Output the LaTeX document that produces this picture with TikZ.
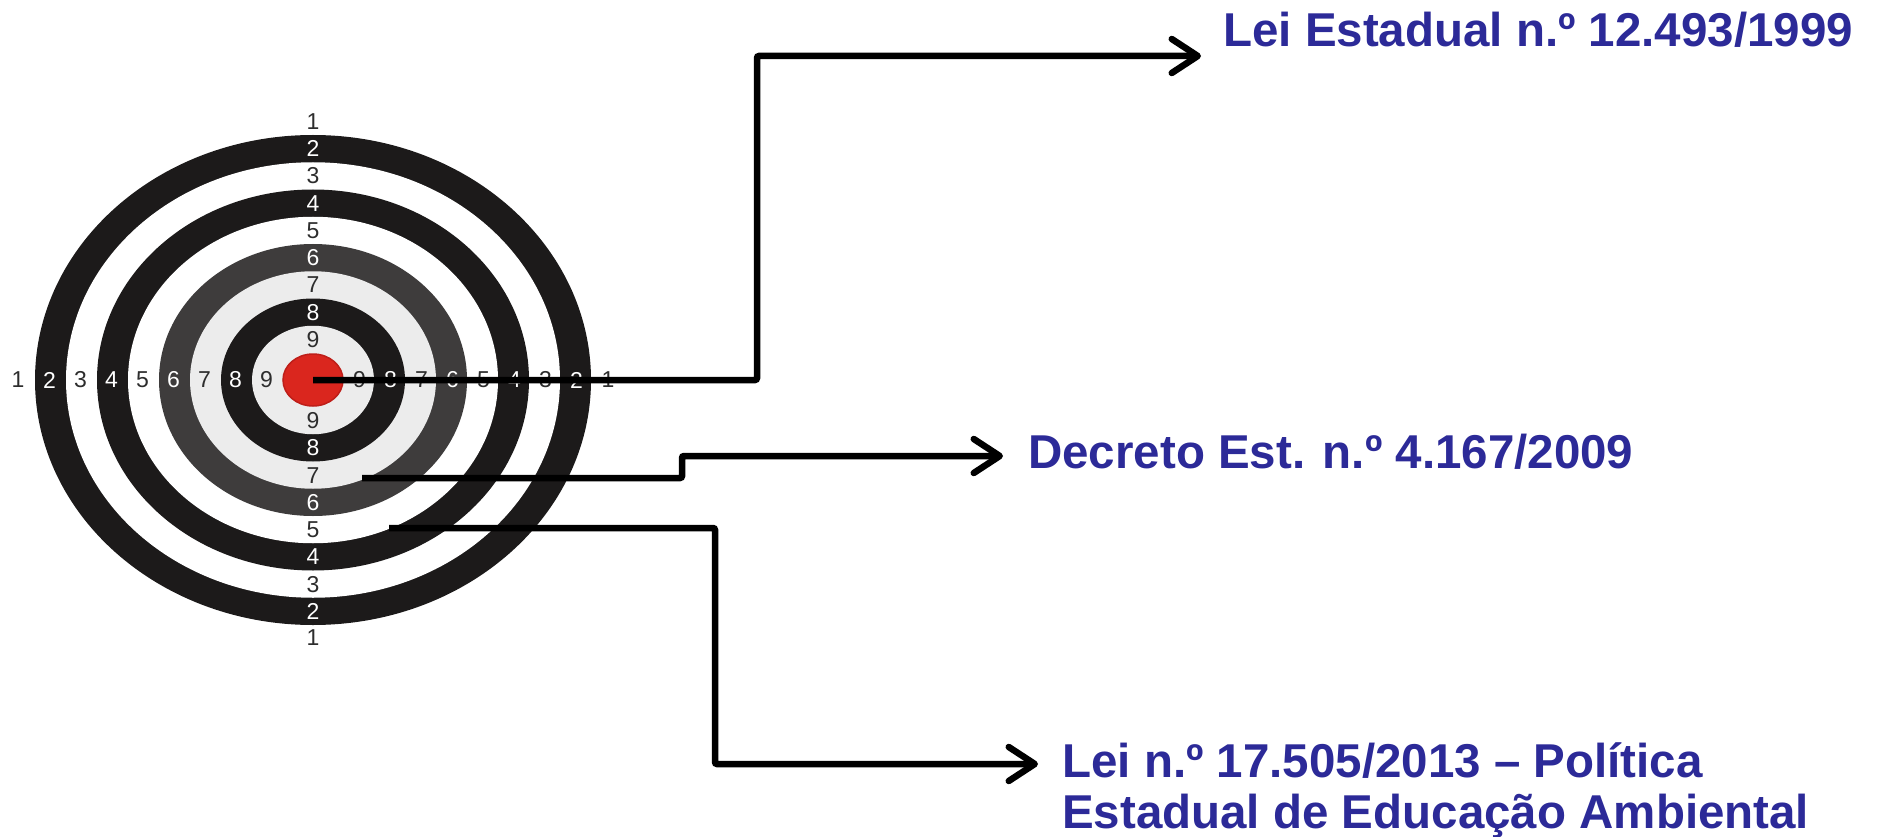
\documentclass[tikz,border=0pt]{standalone}
\usepackage{fontspec}
\setmainfont{Liberation Sans}
\usetikzlibrary{arrows.meta}
\definecolor{lawblue}{RGB}{44,42,152}
\definecolor{ringblack}{RGB}{28,26,26}
\definecolor{ringdark}{RGB}{62,60,60}
\definecolor{ringlight}{RGB}{236,236,236}
\definecolor{bullred}{RGB}{218,38,30}
\definecolor{bulledge}{RGB}{190,30,25}
\definecolor{numdark}{RGB}{45,45,45}

\begin{document}
\begin{tikzpicture}[x=1pt,y=-1pt,
    lawtext/.style={font=\fontsize{47.5}{51}\selectfont\bfseries,text=lawblue,inner sep=0pt,anchor=base west,align=left},
    ringnum/.style={font=\fontsize{23}{23}\selectfont,inner sep=0pt},
    pointer/.style={line width=6.5pt,rounded corners=2pt,-{Straight Barb[length=26pt,width=34pt,round]}}]
  \useasboundingbox (0,0) rectangle (1877,837);

  % target rings
  \coordinate (bull) at (313,380);
  \foreach \k/\col in {0/ringblack,1/white,2/ringblack,3/white,4/ringdark,5/ringlight,6/ringblack,7/ringlight}
    \fill[\col] (bull) ellipse ({278-31*\k} and {245-27.25*\k});
  \fill[bullred,draw=bulledge,line width=1.5pt] (bull) ellipse (30 and 26);

  % ring numbers
  \node[ringnum,text=numdark] (top1) at (313,122) {1};
  \node[ringnum,text=numdark] (bot1) at (313,638) {1};
  \node[ringnum,text=numdark] (lft1) at (18,380) {1};
  \node[ringnum,text=numdark] (rgt1) at (608,380) {1};
  \foreach \k/\num/\tc in {0/2/white,1/3/numdark,2/4/white,3/5/numdark,4/6/white,5/7/numdark,6/8/white,7/9/numdark}{
    \node[ringnum,text=\tc] (top\num) at (313,{148.6+27.25*\k}) {\num};
    \node[ringnum,text=\tc] (bot\num) at (313,{611.4-27.25*\k}) {\num};
    \node[ringnum,text=\tc] (lft\num) at ({49.5+31*\k},380) {\num};
    \node[ringnum,text=\tc] (rgt\num) at ({576.5-31*\k},380) {\num};
  }

  % laws
  \node[lawtext] (leiA) at (1223,47) {Lei Estadual n.º 12.493/1999};
  \node[lawtext] (decreto) at (1028,468) {Decreto Est. n.º 4.167/2009};
  \node[lawtext] (leiC) at (1062,828) {Lei n.º 17.505/2013 – Política\\Estadual de Educação Ambiental};

  % pointers
  \coordinate (ring7) at (362,478);
  \coordinate (ring5) at (389,528);
  \coordinate (bendA) at (757,56);
  \coordinate (bendB) at (682,456);
  \coordinate (bendC) at (715,764);
  \coordinate (tipA) at (1201,56);
  \coordinate (tipB) at (1003,456);
  \coordinate (tipC) at (1038,764);
  \draw[pointer] (bull) -| (bendA) -- (tipA);
  \draw[pointer] (ring7) -| (bendB) -- (tipB);
  \draw[pointer] (ring5) -| (bendC) -- (tipC);
\end{tikzpicture}
\end{document}
